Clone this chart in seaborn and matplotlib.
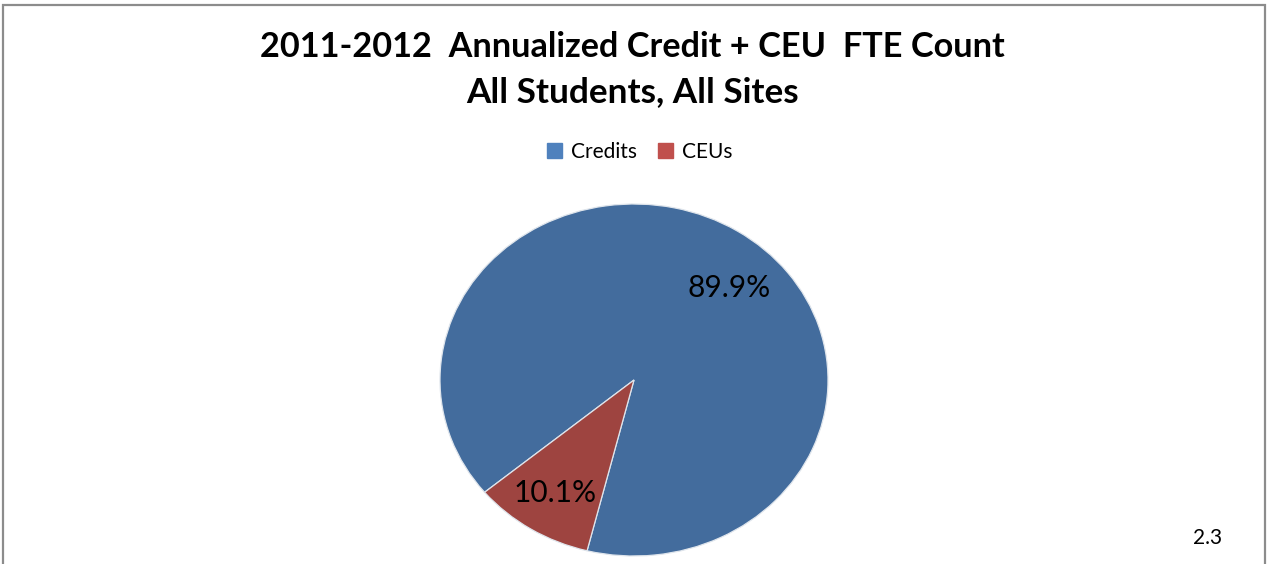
import matplotlib
matplotlib.use("Agg")
import matplotlib.pyplot as plt
import matplotlib.patches as mpatches
import seaborn as sns

# data
categories = ["Credits", "CEUs"]
shares = [89.9, 10.1]
pie_colors = ["#436c9d", "#9e4440"]
legend_colors = ["#4f81bd", "#c0504d"]
title_lines = ["2011-2012  Annualized Credit + CEU  FTE Count", "All Students, All Sites"]
page_no = "2.3"

sns.set_theme(style="white")
plt.rcParams['font.family'] = ['Lato', 'DejaVu Sans']
plt.rcParams['text.color'] = 'black'

W, H = 1268, 564
fig = plt.figure(figsize=(W / 100, H / 100), dpi=100)

# outer frame (bottom runs off the page)
fig.patches.append(mpatches.Rectangle((3 / W, -0.1), 1262 / W, 1.1 - 5 / H,
                                      transform=fig.transFigure, fill=False,
                                      edgecolor="#8c8c8c", linewidth=1.6))

# pie area, slightly wider than tall like the original
ax = fig.add_axes([440 / W, 8 / H, 388 / W, 352 / H])
wedges, texts, autotexts = ax.pie(
    shares, colors=pie_colors, startangle=256, counterclock=True,
    autopct="%1.1f%%", pctdistance=0.76,
    wedgeprops=dict(edgecolor="#dfe5ec", linewidth=0.9),
    textprops=dict(fontsize=21.5, color="black"),
)
ax.set_aspect("auto")
ax.set_xlim(-1, 1)
ax.set_ylim(-1, 1)
ax.axis("off")
# Excel puts the big label a little further round
autotexts[0].set_position((0.49, 0.52))

fig.text(0.499, 1 - 47 / H, title_lines[0], ha="center", va="center",
         fontsize=24.7, fontweight="bold")
fig.text(0.499, 1 - 92 / H, title_lines[1], ha="center", va="center",
         fontsize=25.3, fontweight="bold")

handles = [mpatches.Patch(color=c, label=l) for c, l in zip(legend_colors, categories)]
fig.legend(handles=handles, loc="center", bbox_to_anchor=(0.5 + 6 / W, 1 - 152 / H), ncol=2,
           frameon=False, fontsize=15, handlelength=0.7, handleheight=0.7,
           handletextpad=0.45, columnspacing=1.0)

fig.text(1208 / W, 1 - 538 / H, page_no, ha="center", va="center", fontsize=15)

plt.savefig("out.png", dpi=100, facecolor="white")
